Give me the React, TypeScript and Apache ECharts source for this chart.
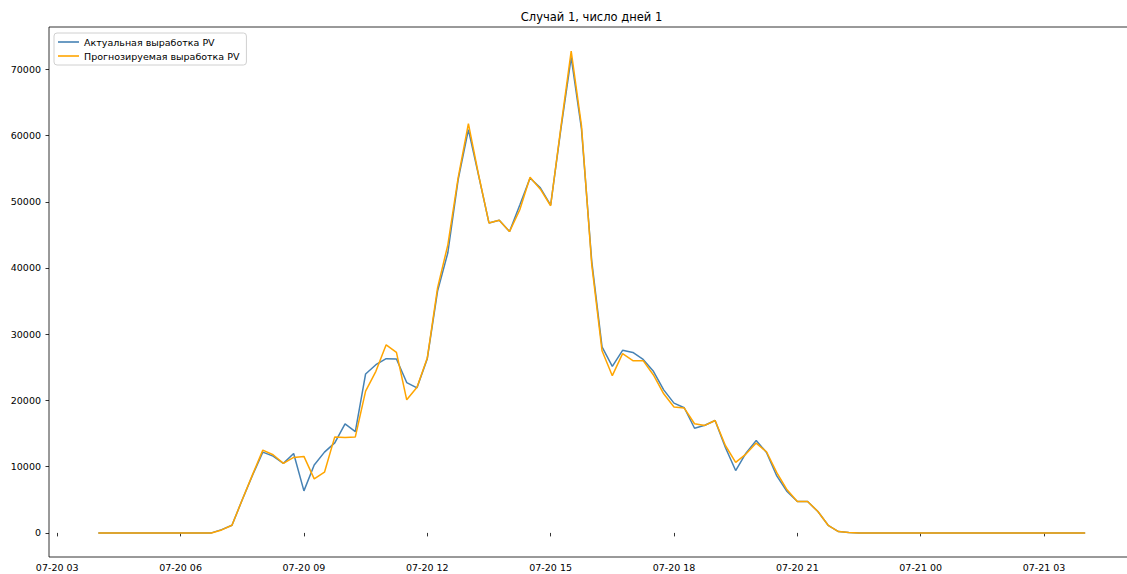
import React, { useEffect, useRef } from "react";
import * as echarts from "echarts";

const title = "Случай 1, число дней 1";
const seriesNames = ["Актуальная выработка PV", "Прогнозируемая выработка PV"];
// readings every 15 minutes starting 07-20 04:00 (hour 4 of 07-20)
const startHour = 4;
const stepHours = 0.25;
const actual = [
  0, 0, 0, 0, 0, 0, 0, 0, 0, 0, 0, 0,
  500, 1160, 5000, 8700, 12200, 11600, 10500, 12000, 6350, 10250,
  12200, 13600, 16450, 15300, 24000, 25400, 26300, 26250, 22700, 21900,
  26300, 36500, 42300, 53300, 60900, 53900, 46800, 47200, 45500, 49500,
  53600, 52100, 49500, 61000, 71800, 61000, 41000, 28100, 25150, 27570,
  27250, 26200, 24400, 21600, 19600, 18900, 15800, 16250, 16980, 12900,
  9420, 12050, 13950, 12150, 8600, 6250, 4750, 4740, 3230, 1150,
  200, 50,
  0, 0, 0, 0, 0, 0, 0, 0, 0, 0, 0, 0, 0, 0, 0, 0, 0, 0, 0, 0, 0, 0, 0,
];
const forecast = [
  0, 0, 0, 0, 0, 0, 0, 0, 0, 0, 0, 0,
  450, 1160, 5000, 8800, 12500, 11800, 10500, 11400, 11550, 8160,
  9170, 14500, 14400, 14500, 21400, 24400, 28400, 27250, 20100, 22000,
  26400, 37000, 43500, 53600, 61800, 54000, 46800, 47200, 45500, 48800,
  53700, 51900, 49400, 61300, 72750, 61500, 40500, 27500, 23740, 27060,
  26010, 26010, 23850, 21000, 19000, 18850, 16480, 16230, 16980, 13200,
  10650, 11900, 13560, 12250, 9100, 6500, 4750, 4740, 3230, 1150,
  200, 50,
  0, 0, 0, 0, 0, 0, 0, 0, 0, 0, 0, 0, 0, 0, 0, 0, 0, 0, 0, 0, 0, 0, 0,
];
const xTickHours = [3, 6, 9, 12, 15, 18, 21, 24, 27];
const yTicks = [0, 10000, 20000, 30000, 40000, 50000, 60000, 70000];
const colors = ["#4682b4", "#ffa500"];

const FONT = "DejaVu Sans";

function fmtHour(h: number): string {
  const day = h >= 24 ? "07-21" : "07-20";
  const hh = Math.round(h % 24);
  return `${day} ${hh < 10 ? "0" + hh : hh}`;
}

export default function App() {
  const ref = useRef<HTMLDivElement>(null);
  useEffect(() => {
    if (!ref.current) return;
    const chart = echarts.init(ref.current, null, { renderer: "svg" });
    const toPairs = (arr: number[]) => arr.map((v, i) => [startHour + i * stepHours, v]);
    const xFirst = startHour;
    const xLast = startHour + (actual.length - 1) * stepHours;
    const xPad = (xLast - xFirst) * 0.05;
    const all = actual.concat(forecast);
    const yMaxD = Math.max(...all);
    const yMinD = Math.min(...all);
    const yPad = (yMaxD - yMinD) * 0.05;

    const axisTextStyle = { fontFamily: FONT, fontSize: 9.5, color: "#000" };

    chart.setOption({
      animation: false,
      color: colors,
      graphic: [
        {
          type: "text",
          x: 591.5,
          y: 17,
          style: {
            text: title,
            fontFamily: FONT,
            fontSize: 11.5,
            fill: "#000",
            textAlign: "center",
            textVerticalAlign: "middle",
          },
        },
      ],
      legend: {
        orient: "vertical",
        left: 54,
        top: 33,
        padding: [3, 7, 3, 4],
        itemWidth: 21,
        itemHeight: 1.6,
        itemGap: 2,
        icon: "rect",
        borderColor: "#d0d0d0",
        borderWidth: 1,
        borderRadius: 3,
        backgroundColor: "rgba(255,255,255,0.8)",
        textStyle: { fontFamily: FONT, fontSize: 9.5, color: "#000", lineHeight: 12 },
        data: seriesNames,
      },
      grid: {
        left: 49,
        top: 27,
        width: 1085.5,
        height: 530,
        show: true,
        borderColor: "#000",
        borderWidth: 0.8,
        containLabel: false,
      },
      xAxis: {
        type: "value",
        min: xFirst - xPad,
        max: xLast + xPad,
        axisLine: { show: false },
        splitLine: { show: false },
        axisTick: {
          show: true,
          inside: false,
          length: 3.5,
          customValues: xTickHours,
          lineStyle: { color: "#000", width: 0.8 },
        },
        axisLabel: {
          ...axisTextStyle,
          margin: 5,
          customValues: xTickHours,
          formatter: (v: number) => fmtHour(v),
          hideOverlap: false,
        },
      },
      yAxis: {
        type: "value",
        min: yMinD - yPad,
        max: yMaxD + yPad,
        axisLine: { show: false },
        splitLine: { show: false },
        axisTick: {
          show: true,
          inside: false,
          length: 3.5,
          customValues: yTicks,
          lineStyle: { color: "#000", width: 0.8 },
        },
        axisLabel: {
          ...axisTextStyle,
          margin: 8,
          customValues: yTicks,
          formatter: (v: number) => String(v),
        },
      },
      series: [
        {
          name: seriesNames[0],
          type: "line",
          data: toPairs(actual),
          showSymbol: false,
          symbol: "none",
          lineStyle: { width: 1.5, color: colors[0] },
          itemStyle: { color: colors[0] },
          z: 2,
        },
        {
          name: seriesNames[1],
          type: "line",
          data: toPairs(forecast),
          showSymbol: false,
          symbol: "none",
          lineStyle: { width: 1.5, color: colors[1] },
          itemStyle: { color: colors[1] },
          z: 3,
        },
      ],
    });
    return () => chart.dispose();
  }, []);
  return (
    <div
      style={{
        position: "absolute",
        left: 0,
        top: 0,
        width: 1127,
        height: 574,
        overflow: "hidden",
        background: "#fff",
      }}
    >
      <div ref={ref} style={{ width: 1150, height: 574 }} />
    </div>
  );
}
